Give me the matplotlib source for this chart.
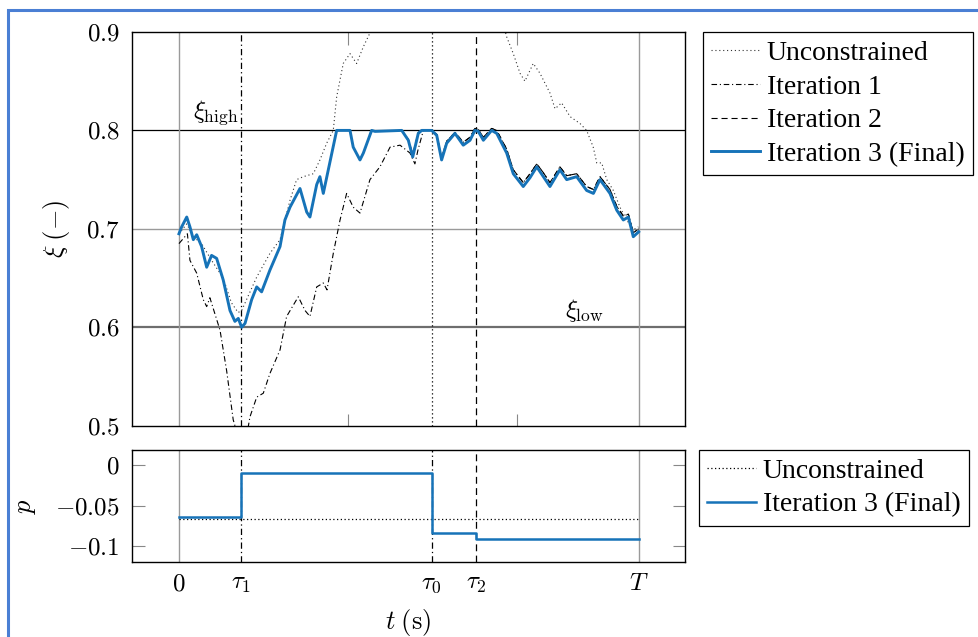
import matplotlib
matplotlib.use("Agg")
import matplotlib.pyplot as plt
from matplotlib.patches import Rectangle

# switching instants and horizon (s)
tau_1 = 37.0
tau_0 = 149.5
tau_2 = 176.0
T_end = 272.0

xi_high = 0.8
xi_low = 0.6

# state of charge, final iteration
t_final = [0, 1.6, 4.6, 6.5, 8.5, 10.5, 13.4, 16.4, 19.3, 22.3,
           26.2, 30.2, 33.1, 35.1, 37.1, 39.1, 43.0, 46.0, 48.9, 53.8,
           59.8, 62.7, 65.7, 71.6, 75.6, 77.5, 81.5, 83.4, 85.4, 93.3,
           101.2, 103.1, 107.1, 109.1, 114.0, 116.0, 131.8, 135.7, 138.3, 141.6,
           143.6, 149.5, 152.5, 155.4, 158.4, 163.3, 168.2, 172.2, 175.1, 177.1,
           180.1, 185.0, 188.0, 193.9, 197.8, 203.7, 207.7, 211.7, 215.6, 219.5,
           225.4, 229.4, 235.3, 241.2, 245.2, 249.1, 255.0, 259.0, 262.9, 265.9,
           268.8, 272.0]
xi_final = [0.695, 0.702, 0.712, 0.702, 0.689, 0.694, 0.682, 0.661, 0.673, 0.670,
            0.648, 0.617, 0.606, 0.609, 0.600, 0.604, 0.628, 0.641, 0.636, 0.658,
            0.682, 0.709, 0.722, 0.741, 0.717, 0.712, 0.745, 0.753, 0.736, 0.800,
            0.800, 0.783, 0.770, 0.777, 0.800, 0.799, 0.800, 0.790, 0.773, 0.797,
            0.800, 0.800, 0.795, 0.770, 0.787, 0.797, 0.785, 0.790, 0.800, 0.799,
            0.790, 0.800, 0.797, 0.777, 0.756, 0.743, 0.752, 0.763, 0.753, 0.743,
            0.760, 0.750, 0.753, 0.739, 0.736, 0.750, 0.736, 0.719, 0.709, 0.712,
            0.692, 0.697]

# iteration 2 on the same time grid
xi_iter2 = [0.695, 0.702, 0.712, 0.702, 0.689, 0.694, 0.682, 0.661, 0.673, 0.670,
            0.648, 0.617, 0.606, 0.609, 0.600, 0.604, 0.628, 0.641, 0.636, 0.658,
            0.682, 0.709, 0.722, 0.741, 0.717, 0.712, 0.745, 0.753, 0.736, 0.800,
            0.800, 0.783, 0.770, 0.777, 0.800, 0.799, 0.800, 0.791, 0.776, 0.798,
            0.800, 0.800, 0.796, 0.772, 0.789, 0.798, 0.788, 0.793, 0.802, 0.801,
            0.793, 0.802, 0.800, 0.781, 0.760, 0.747, 0.756, 0.766, 0.757, 0.747,
            0.763, 0.754, 0.756, 0.743, 0.740, 0.753, 0.740, 0.723, 0.713, 0.715,
            0.696, 0.700]

# iteration 1
t_iter1 = [0, 5.0, 6.5, 10.5, 14.4, 16.4, 18.3, 24.3, 28.2, 32.1,
           34.5, 37.5, 40.5, 42.0, 46.0, 49.9, 53.8, 59.8, 63.7, 70.6,
           74.6, 77.5, 81.5, 85.4, 87.6, 91.3, 95.3, 99.2, 103.1, 107.1,
           113.0, 118.9, 124.9, 130.8, 136.7, 139.6, 141.4, 144.6, 149.5, 152.5,
           155.4, 158.4, 163.3, 168.2, 172.2, 175.1, 177.1, 180.1, 185.0, 188.0,
           193.9, 197.8, 203.7, 207.7, 211.7, 215.6, 219.5, 225.4, 229.4, 235.3,
           241.2, 245.2, 249.1, 255.0, 259.0, 262.9, 265.9, 268.8, 272.0]
xi_iter1 = [0.685, 0.695, 0.668, 0.655, 0.628, 0.621, 0.630, 0.597, 0.556, 0.506,
            0.492, 0.487, 0.494, 0.509, 0.529, 0.533, 0.553, 0.577, 0.611, 0.631,
            0.617, 0.611, 0.641, 0.645, 0.638, 0.675, 0.709, 0.736, 0.722, 0.716,
            0.750, 0.763, 0.783, 0.785, 0.777, 0.766, 0.780, 0.800, 0.800, 0.796,
            0.772, 0.789, 0.798, 0.788, 0.793, 0.802, 0.801, 0.793, 0.802, 0.800,
            0.781, 0.760, 0.747, 0.756, 0.766, 0.757, 0.747, 0.763, 0.754, 0.756,
            0.743, 0.740, 0.753, 0.740, 0.723, 0.713, 0.715, 0.696, 0.700]

# unconstrained trajectory
t_unc = [0, 4.6, 8.5, 13.4, 19.3, 26.2, 31.0, 35.0, 37.1, 41.0,
         46.0, 53.8, 59.8, 65.7, 69.6, 73.6, 79.5, 83.4, 87.4, 91.3,
         93.3, 97.2, 101.2, 105.1, 109.1, 113.0, 120.0, 130.0, 140.0, 150.0,
         160.0, 170.0, 180.0, 190.0, 193.9, 197.8, 201.8, 204.7, 209.6, 213.6,
         219.5, 222.5, 226.4, 231.4, 237.3, 241.2, 245.1, 247.2, 250.1, 253.1,
         257.0, 260.9, 264.9, 268.8, 271.8]
xi_unc = [0.695, 0.705, 0.692, 0.685, 0.668, 0.650, 0.625, 0.615, 0.617, 0.632,
          0.651, 0.675, 0.689, 0.729, 0.750, 0.753, 0.756, 0.770, 0.787, 0.800,
          0.834, 0.868, 0.878, 0.868, 0.885, 0.899, 0.920, 0.940, 0.950, 0.960,
          0.960, 0.950, 0.940, 0.920, 0.895, 0.878, 0.858, 0.850, 0.868, 0.858,
          0.838, 0.822, 0.828, 0.814, 0.807, 0.800, 0.783, 0.767, 0.767, 0.750,
          0.739, 0.722, 0.709, 0.699, 0.702]

# control parameter p
p_times = [0, tau_1, tau_0, tau_2, T_end]
p_final = [-0.064, -0.010, -0.084, -0.091, -0.091]
p_unc = -0.066

blue = "#1673b8"
dashdot = (0, (5, 2.5, 1, 2.5))
dashed = (0, (5.5, 3.5))
dotted = (0, (1, 2.5))

plt.rcParams["mathtext.fontset"] = "cm"
plt.rcParams["font.family"] = "Liberation Serif"

fig = plt.figure(figsize=(9.79, 6.37), dpi=100)
ax = fig.add_axes([0.1348, 0.3317, 0.5649, 0.6181])
ax2 = fig.add_axes([0.1348, 0.1173, 0.5649, 0.1763])

xlim = (-27.8, 299.4)
legend_style = dict(loc="upper left", bbox_transform=fig.transFigure, fontsize=20,
                    frameon=True, fancybox=False, edgecolor="black", framealpha=1,
                    handlelength=1.75, handletextpad=0.25, labelspacing=0.3,
                    borderpad=0.3, borderaxespad=0)

# ---- upper panel: state of charge ----
ax.set_xlim(*xlim)
ax.set_ylim(0.5, 0.9)
ax.axhline(0.7, color="#9a9a9a", lw=1.0, zorder=1)
ax.axhline(xi_high, color="black", lw=0.9, zorder=1)
ax.axhline(xi_low, color="#6e6e6e", lw=1.6, zorder=1)
ax.axvline(0, color="#9a9a9a", lw=1.0, zorder=1)
ax.axvline(T_end, color="#9a9a9a", lw=1.0, zorder=1)
ax.axvline(tau_1, color="black", lw=0.9, ls=dashdot, zorder=1)
ax.axvline(tau_0, color="black", lw=0.9, ls=(0, (1, 2.2)), zorder=1)
ax.axvline(tau_2, color="black", lw=0.9, ls=dashed, zorder=1)

ax.plot(t_unc, xi_unc, color="#333333", lw=0.8, ls=dotted, label="Unconstrained")
ax.plot(t_iter1, xi_iter1, color="black", lw=0.8, ls=dashdot, label="Iteration 1")
ax.plot(t_final, xi_iter2, color="black", lw=0.8, ls=dashed, label="Iteration 2")
ax.plot(t_final, xi_final, color=blue, lw=2.1, label="Iteration 3 (Final)")

ax.text(8.3, 0.818, r"$\xi_{\mathrm{high}}$", fontsize=18, va="center", ha="left")
ax.text(228.4, 0.617, r"$\xi_{\mathrm{low}}$", fontsize=18, va="center", ha="left")

ax.set_yticks([0.5, 0.6, 0.7, 0.8, 0.9])
ax.set_yticklabels([r"$0.5$", r"$0.6$", r"$0.7$", r"$0.8$", r"$0.9$"], fontsize=18)
ax.tick_params(axis="y", length=0, pad=9)
ax.set_xticks([100, 200])
ax.set_xticklabels([])
ax.tick_params(axis="x", direction="in", length=9, color="#888888", top=True, bottom=True)
ax.set_ylabel(r"$\xi\;(-)$", fontsize=19, labelpad=10)

leg = ax.legend(bbox_to_anchor=(703 / 979, 1 - 32 / 637), **legend_style)
leg.get_frame().set_linewidth(0.9)

# ---- lower panel: control parameter ----
ax2.set_xlim(*xlim)
ax2.set_ylim(-0.12, 0.019)
ax2.axvline(0, color="#9a9a9a", lw=1.0, zorder=1)
ax2.axvline(T_end, color="#9a9a9a", lw=1.0, zorder=1)
ax2.axvline(tau_1, color="black", lw=0.9, ls=dashdot, zorder=1)
ax2.axvline(tau_0, color="black", lw=0.9, ls=dashdot, zorder=1)
ax2.axvline(tau_2, color="black", lw=0.9, ls=dashed, zorder=1)

ax2.plot([0, T_end], [p_unc, p_unc], color="black", lw=0.9, ls=(0, (1, 2)),
         label="Unconstrained")
ax2.plot(p_times, p_final, color=blue, lw=1.8, drawstyle="steps-post",
         label="Iteration 3 (Final)")

ax2.set_yticks([-0.1, -0.05, 0])
ax2.set_yticklabels([r"$-0.1$", r"$-0.05$", r"$0$"], fontsize=18)
ax2.tick_params(axis="y", direction="in", length=9, color="#888888",
                left=True, right=True, pad=9)
ax2.set_xticks([0, tau_1, tau_0, tau_2, T_end])
ax2.set_xticklabels([r"$0$", r"$\tau_1$", r"$\tau_0$", r"$\tau_2$", r"$T$"], fontsize=18)
ax2.tick_params(axis="x", length=0, pad=8)
ax2.set_xlabel(r"$t\;(\mathrm{s})$", fontsize=19, labelpad=8)
ax2.set_ylabel(r"$p$", fontsize=19, labelpad=12)

leg2 = ax2.legend(bbox_to_anchor=(699 / 979, 1 - 450 / 637), **legend_style)
leg2.get_frame().set_linewidth(0.9)

for a in (ax, ax2):
    for s in a.spines.values():
        s.set_linewidth(1.0)

# page frame
fig.add_artist(Rectangle((8 / 979, -0.2), 1.2, 1.2 - 10 / 637,
                         transform=fig.transFigure, fill=False,
                         edgecolor="#4a7fd4", lw=2.2, clip_on=False))

fig.savefig("out.png", dpi=100)
